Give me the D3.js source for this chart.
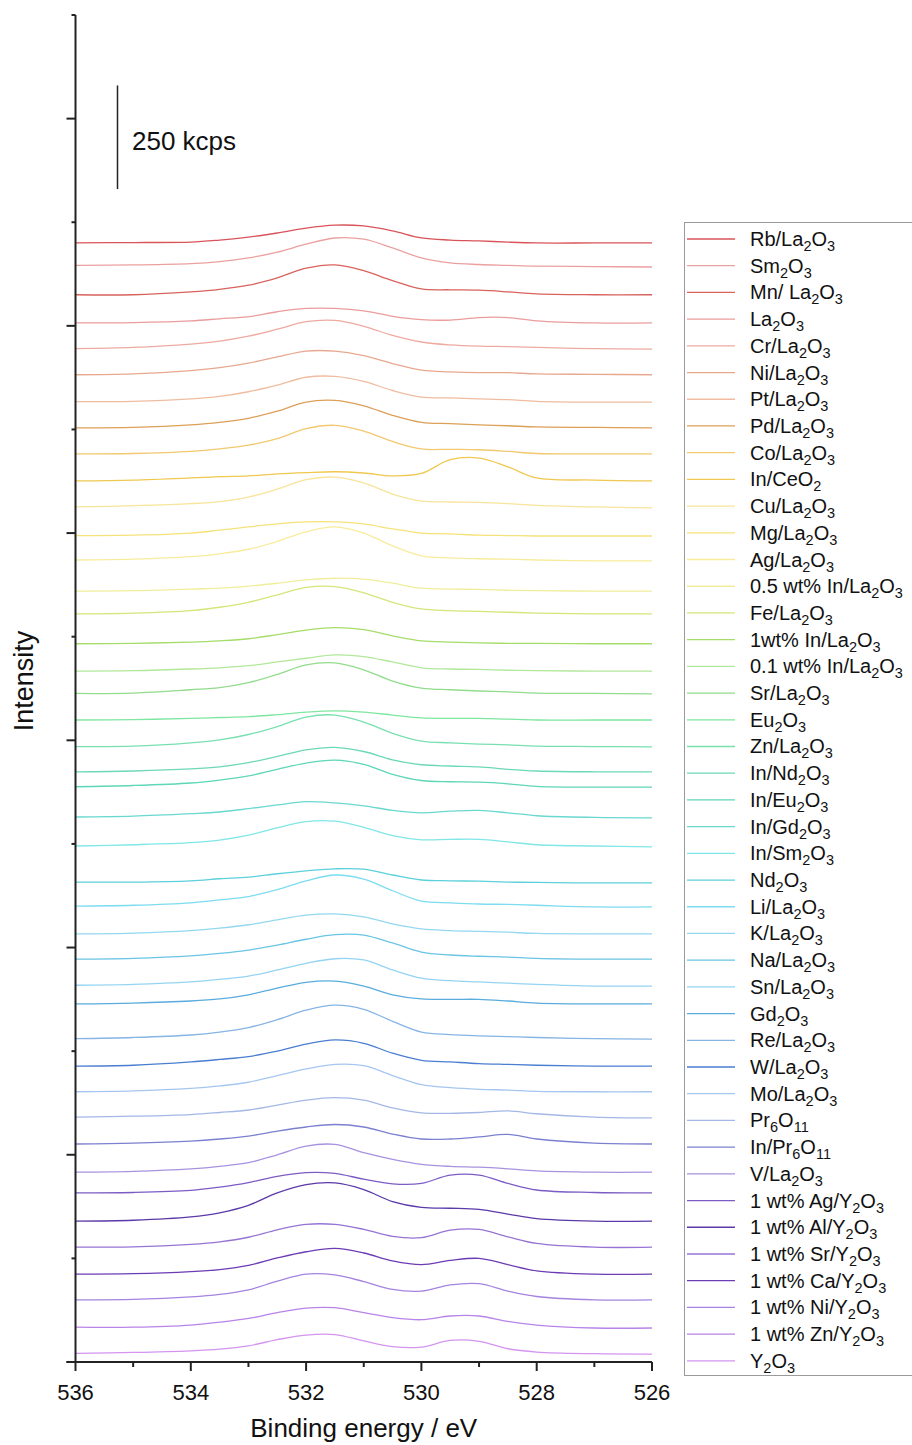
<!DOCTYPE html>
<html>
<head>
<meta charset="utf-8">
<script src="https://cdn.jsdelivr.net/npm/d3@7"></script>
<style>
  html, body { margin: 0; padding: 0; background: #fff; }
  svg { display: block; }
  text { font-family: "Liberation Sans", Arial, Helvetica, sans-serif; fill: #111; }
</style>
</head>
<body>
<svg id="chart" width="912" height="1445"></svg>
<script>
// Binding energies (eV) at which each spectrum was read
const energies = [536, 535, 534, 533.5, 533, 532.5, 532, 531.5, 531, 530.5, 530, 529.5, 529, 528.5, 528, 527, 526];

// Sample names (top trace first); "_n" marks a subscript
const samples = [
  "Rb/La_2O_3", "Sm_2O_3", "Mn/ La_2O_3", "La_2O_3", "Cr/La_2O_3", "Ni/La_2O_3",
  "Pt/La_2O_3", "Pd/La_2O_3", "Co/La_2O_3", "In/CeO_2", "Cu/La_2O_3", "Mg/La_2O_3",
  "Ag/La_2O_3", "0.5 wt% In/La_2O_3", "Fe/La_2O_3", "1wt% In/La_2O_3", "0.1 wt% In/La_2O_3",
  "Sr/La_2O_3", "Eu_2O_3", "Zn/La_2O_3", "In/Nd_2O_3", "In/Eu_2O_3", "In/Gd_2O_3",
  "In/Sm_2O_3", "Nd_2O_3", "Li/La_2O_3", "K/La_2O_3", "Na/La_2O_3", "Sn/La_2O_3",
  "Gd_2O_3", "Re/La_2O_3", "W/La_2O_3", "Mo/La_2O_3", "Pr_6O_11", "In/Pr_6O_11",
  "V/La_2O_3", "1 wt% Ag/Y_2O_3", "1 wt% Al/Y_2O_3", "1 wt% Sr/Y_2O_3",
  "1 wt% Ca/Y_2O_3", "1 wt% Ni/Y_2O_3", "1 wt% Zn/Y_2O_3", "Y_2O_3"
];

// Vertical offset of each stacked trace (kcps)
const offsets = [2700, 2642, 2575, 2507, 2444, 2382, 2316, 2254, 2191, 2126, 2061, 1993,
  1933, 1860, 1805, 1733, 1667, 1612, 1549, 1484, 1424, 1387, 1313, 1243, 1156, 1098,
  1033, 972, 907, 864, 779, 714, 652, 589, 526, 458, 408, 340, 277, 212, 150, 82, 19];

// Intensity above each trace's offset (kcps) at the energies above
const spectra = [
  [0,1,2,7,14,24,36,43,41,29,12,7,5,2,0,0,0],
  [4,5,8,13,22,36,55,70,67,46,22,10,6,4,2,1,0],
  [0,0,7,13,23,41,64,72,58,34,14,12,11,7,2,0,0],
  [0,1,5,10,15,27,35,35,29,16,8,7,13,13,5,0,0],
  [1,4,12,19,31,48,66,69,55,33,17,10,7,6,4,1,0],
  [0,2,10,17,28,43,57,57,46,27,11,7,5,5,2,1,0],
  [1,2,8,14,25,41,60,62,50,28,12,10,8,6,2,0,0],
  [0,1,7,13,23,40,62,66,53,30,13,10,7,5,2,1,0],
  [0,1,6,12,21,37,61,69,55,30,12,11,10,6,1,0,0],
  [0,2,7,10,12,17,20,22,19,12,18,51,55,34,7,2,0],
  [2,5,10,15,26,45,68,74,60,33,16,14,13,10,6,2,0],
  [1,2,7,14,22,29,34,34,29,17,7,5,2,1,0,0,0],
  [2,4,10,17,28,47,70,82,67,36,12,7,5,4,2,0,0],
  [0,1,5,7,12,19,27,31,29,19,7,5,4,2,1,0,0],
  [0,2,8,16,28,46,64,66,51,28,12,8,6,4,2,0,0],
  [0,1,4,7,12,22,33,39,34,19,7,4,2,1,1,0,0],
  [0,1,5,8,13,22,31,39,35,22,8,5,4,2,1,0,0],
  [1,2,10,15,27,47,70,75,58,31,14,10,7,5,2,1,0],
  [0,1,4,6,8,13,19,22,19,12,5,4,4,2,0,0,0],
  [1,2,10,17,30,49,72,77,60,33,14,10,7,5,2,1,0],
  [0,2,7,12,22,37,53,59,49,29,17,14,12,6,2,0,0],
  [1,4,10,17,27,43,58,65,55,31,16,13,12,8,2,0,0],
  [2,4,10,14,22,31,39,36,29,18,12,16,18,12,5,1,0],
  [2,5,10,16,28,46,61,62,47,27,17,18,18,12,5,2,0],
  [2,2,5,10,14,22,29,34,33,19,7,5,4,2,1,0,0],
  [2,4,10,17,25,42,63,77,67,39,14,10,7,6,4,0,0],
  [0,2,8,14,22,34,45,48,41,24,12,8,6,4,1,0,0],
  [0,2,8,14,22,34,48,59,58,39,17,10,7,5,2,0,0],
  [2,4,10,16,24,39,55,66,63,39,19,13,10,7,4,0,0],
  [0,2,7,12,22,38,52,55,43,22,12,11,11,7,2,0,0],
  [1,4,10,17,28,47,70,82,72,43,17,11,8,6,4,1,0],
  [0,2,10,16,23,36,53,63,55,31,14,10,6,4,2,0,0],
  [0,2,8,14,23,39,55,66,63,39,17,10,6,4,1,0,0],
  [2,4,8,13,19,31,43,49,43,24,12,11,13,17,10,2,0],
  [0,2,7,12,19,31,41,47,41,24,12,12,17,23,12,2,0],
  [0,2,8,14,23,42,63,67,47,31,19,14,12,8,3,0,0],
  [0,1,6,14,25,40,49,47,33,22,23,43,43,23,7,1,0],
  [0,2,10,20,38,68,88,92,76,47,33,31,28,17,6,0,0],
  [0,1,7,13,24,42,55,55,43,26,23,41,43,25,9,0,0],
  [0,1,6,11,21,39,54,62,51,32,23,33,38,23,8,0,0],
  [0,1,7,13,24,45,62,60,44,25,21,36,39,21,8,0,0],
  [2,2,7,14,23,37,48,49,37,25,20,29,29,16,7,0,0],
  [2,4,8,12,20,35,46,47,32,18,17,33,31,13,5,1,0]
];

const colors = [
  "#d9545a", "#eba0a0", "#d8625c", "#eb9c9c", "#eeaaa0", "#e8a890", "#f0bca0", "#dca058",
  "#f2c870", "#f0c850", "#f8e49a", "#f6e27a", "#f8ec9c", "#f0ee9c", "#d4e67a", "#a6dc6a",
  "#b2e89a", "#92dc8c", "#7ee6a0", "#78e0b0", "#6cd8b8", "#5ed6b8", "#6ad8d0", "#80e6e6",
  "#5cd0dc", "#7cdcf0", "#94d8f0", "#6ac4e4", "#94d4f2", "#5aacdc", "#86b4e4", "#4a7ed0",
  "#a6c6f0", "#a4b8e6", "#7c80d0", "#a892e0", "#7c5cc4", "#5a3aa8", "#9674d4", "#6c3cb4",
  "#a484e0", "#b884e8", "#d494f0"
];

// Axis ticks
const xTicks = [536, 535, 534, 533, 532, 531, 530, 529, 528, 527, 526];
const xTickLabels = ["536", "534", "532", "530", "528", "526"];
const yTicks = d3.range(0, 3251, 250);   // kcps, no labels
const scaleBarValue = 250;               // kcps
const scaleBarStart = 2830;              // kcps

// ---------- drawing ----------
const svg = d3.select("#chart");
const x = d3.scaleLinear().domain([536, 526]).range([75.5, 652]);
const y = d3.scaleLinear().domain([0, 3250]).range([1362, 15]);

// traces
const line = d3.line()
  .x(d => x(d[0]))
  .y(d => y(d[1]))
  .curve(d3.curveCatmullRom.alpha(0.5));

const traces = svg.append("g");
spectra.forEach((vals, i) => {
  const pts = energies.map((e, j) => [e, offsets[i] + vals[j]]);
  traces.append("path")
    .attr("d", line(pts))
    .attr("fill", "none")
    .attr("stroke", colors[i])
    .attr("stroke-width", 1.3);
});

// y axis
const yAxis = svg.append("g").attr("transform", `translate(${x(536)},0)`);
yAxis.append("line").attr("x1", 0).attr("x2", 0).attr("y1", y(3250)).attr("y2", y(0))
  .attr("stroke", "#222").attr("stroke-width", 2);
yAxis.selectAll("line.tick").data(yTicks).join("line")
  .attr("class", "tick")
  .attr("x1", d => (d % 500 === 0) ? -9 : -4).attr("x2", 0)
  .attr("y1", d => y(d)).attr("y2", d => y(d))
  .attr("stroke", "#222").attr("stroke-width", 2);

// x axis
const xAxisG = svg.append("g").attr("transform", `translate(0,${y(0)})`);
xAxisG.append("line").attr("x1", x(536) - 9).attr("x2", x(526)).attr("y1", 0).attr("y2", 0)
  .attr("stroke", "#222").attr("stroke-width", 2);
xAxisG.selectAll("line.tick").data(xTicks).join("line")
  .attr("class", "tick")
  .attr("x1", d => x(d)).attr("x2", d => x(d))
  .attr("y1", 0).attr("y2", d => (d % 2 === 0) ? 9 : 5)
  .attr("stroke", "#222").attr("stroke-width", 2);
xAxisG.selectAll("text").data(xTickLabels).join("text")
  .attr("x", d => x(+d)).attr("y", 38)
  .attr("text-anchor", "middle")
  .attr("font-size", 22)
  .text(d => d);

// axis titles
svg.append("text").attr("x", (x(536) + x(526)) / 2).attr("y", 1437)
  .attr("text-anchor", "middle").attr("font-size", 26).text("Binding energy / eV");
svg.append("text").attr("transform", "translate(33,681) rotate(-90)")
  .attr("text-anchor", "middle").attr("font-size", 27).text("Intensity");

// scale bar
svg.append("line").attr("x1", 117.5).attr("x2", 117.5)
  .attr("y1", y(scaleBarStart)).attr("y2", y(scaleBarStart + scaleBarValue))
  .attr("stroke", "#222").attr("stroke-width", 1.5);
svg.append("text").attr("x", 132).attr("y", 150).attr("font-size", 26).text(scaleBarValue + " kcps");

// legend
const legX = 684, legY = 222, rowH = 26.71, firstRow = 239;
svg.append("rect").attr("x", legX + 0.5).attr("y", legY + 0.5)
  .attr("width", 260).attr("height", 1375 - legY)
  .attr("fill", "none").attr("stroke", "#9a9a9a").attr("stroke-width", 1);

function addRich(textSel, label) {
  const parts = label.split(/(_\d+)/).filter(s => s.length);
  let shift = 0;
  parts.forEach(p => {
    if (p[0] === "_") {
      textSel.append("tspan").attr("font-size", 14.5).attr("dy", 5 - shift).text(p.slice(1));
      shift = 5;
    } else {
      textSel.append("tspan").attr("dy", -shift).text(p);
      shift = 0;
    }
  });
}

const leg = svg.append("g");
samples.forEach((s, i) => {
  const cy = firstRow + i * rowH;
  leg.append("line").attr("x1", 687).attr("x2", 735).attr("y1", cy).attr("y2", cy)
    .attr("stroke", colors[i]).attr("stroke-width", 1.3);
  const t = leg.append("text").attr("x", 750).attr("y", cy + 7).attr("font-size", 20);
  addRich(t, s);
});
</script>
</body>
</html>
